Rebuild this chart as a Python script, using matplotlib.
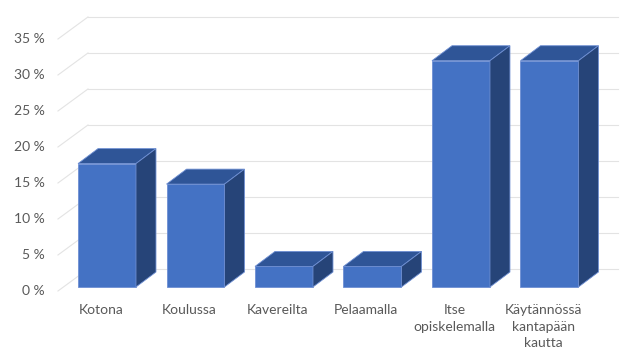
import matplotlib
matplotlib.use('Agg')
import matplotlib.pyplot as plt
from matplotlib.patches import Polygon

plt.rcParams['font.family'] = ['Lato', 'DejaVu Sans']

# Data: share of answers (6, 5, 1, 1, 11, 11 out of 35)
categories = ['Kotona', 'Koulussa', 'Kavereilta', 'Pelaamalla',
              'Itse\nopiskelemalla', 'Käytännössä\nkantapään\nkautta']
values = [17.14, 14.29, 2.86, 2.86, 31.43, 31.43]
yticks = [0, 5, 10, 15, 20, 25, 30, 35]

front_c = '#4472C4'
top_c = '#2F5597'
side_c = '#264478'
edge_c = '#6E8FD3'
grid_c = '#E3E3E3'
text_c = '#595959'

# pseudo-3D geometry (category units / percent units)
bar_w = 0.655
dx, dy = 0.226, 2.08          # bar depth
front_x, front_dy = -0.554, -0.556   # front edge of the side wall
back_x, back_dy = -0.215, 2.5        # back wall
back_end = 5.774

fig = plt.figure(figsize=(6.4, 3.58), dpi=100)
ax = fig.add_axes([0, 0, 1, 1])
ax.set_xlim(-1.209, 6.023)
ax.set_ylim(-9.86, 39.86)
ax.axis('off')

# gridlines: diagonal on the side wall + horizontal on back wall
for t in yticks:
    ax.plot([front_x, back_x], [t + front_dy, t + back_dy], color=grid_c, lw=0.8, zorder=1)
    ax.plot([back_x, back_end], [t + back_dy, t + back_dy], color=grid_c, lw=0.8, zorder=1)
    ax.text(-0.70, t + front_dy, f'{t} %', ha='right', va='center',
            fontsize=10, color=text_c)

xs = list(range(len(values)))
ax.bar(xs, values, width=bar_w, color=front_c, edgecolor=edge_c, linewidth=0.6, zorder=3)
for x, v in zip(xs, values):
    l, r = x - bar_w / 2, x + bar_w / 2
    top = Polygon([(l, v), (r, v), (r + dx, v + dy), (l + dx, v + dy)],
                  closed=True, facecolor=top_c, edgecolor=edge_c, lw=0.6, zorder=3)
    side = Polygon([(r, 0), (r + dx, dy), (r + dx, v + dy), (r, v)],
                   closed=True, facecolor=side_c, edgecolor=edge_c, lw=0.6, zorder=3)
    ax.add_patch(top)
    ax.add_patch(side)

for x, lab in zip(xs, categories):
    ax.text(x - 0.07, -2.38, lab, ha='center', va='top', fontsize=10,
            color=text_c, linespacing=1.45)

fig.savefig('out.png', dpi=100)
